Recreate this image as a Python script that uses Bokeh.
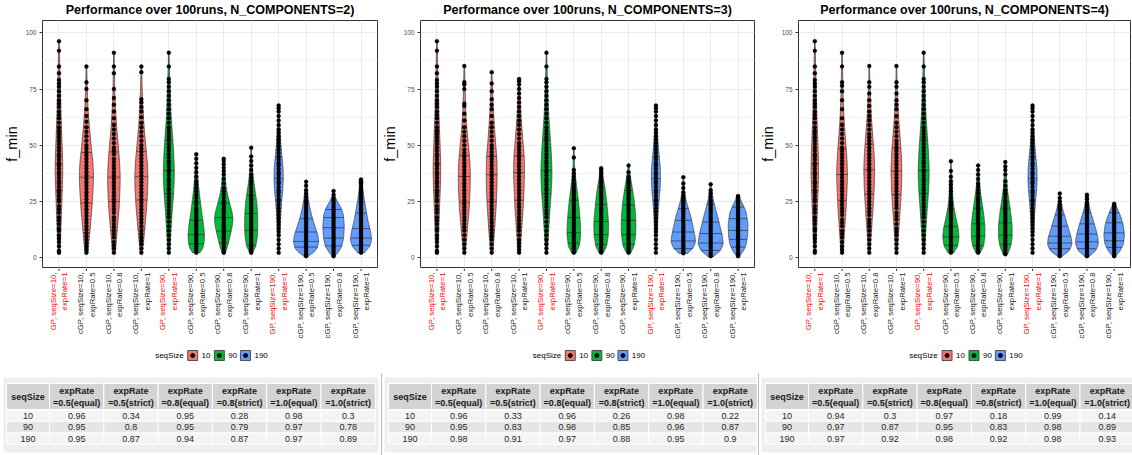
from math import pi

import numpy as np
from bokeh.core.properties import value
from bokeh.embed import file_html
from bokeh.layouts import column, row
from bokeh.models import ColumnDataSource, FixedTicker, Range1d
from bokeh.plotting import figure
from bokeh.resources import INLINE

FONT = "Liberation Sans"

# ---------------------------------------------------------------- categories
CATEGORY_LABELS = [
    "GP, seqSize=10,\nexpRate=1",
    "cGP, seqSize=10,\nexpRate=0.5",
    "cGP, seqSize=10,\nexpRate=0.8",
    "cGP, seqSize=10,\nexpRate=1",
    "GP, seqSize=90,\nexpRate=1",
    "cGP, seqSize=90,\nexpRate=0.5",
    "cGP, seqSize=90,\nexpRate=0.8",
    "cGP, seqSize=90,\nexpRate=1",
    "GP, seqSize=190,\nexpRate=1",
    "cGP, seqSize=190,\nexpRate=0.5",
    "cGP, seqSize=190,\nexpRate=0.8",
    "cGP, seqSize=190,\nexpRate=1",
]
CATEGORY_SEQSIZE = [10, 10, 10, 10, 90, 90, 90, 90, 190, 190, 190, 190]
CATEGORY_IS_GP = [True, False, False, False] * 3
SEQ_SIZES = [10, 90, 190]
N_COMPONENTS = [2, 3, 4]

# ---------------------------------------------------------------- plain GP runs (same in every panel)
GP10_LEVELS = [2.2, 10, 20, 30, 38, 45, 55, 65, 75, 85, 96.3]
GP10_DENS = [3, 6, 9, 12, 14, 13, 10, 7, 5, 3, 1]
GP10_Q = [14, 29.9, 41.8, 56, 70]
GP10_PTS = [2.2, 3, 5, 7, 8.5, 10, 12, 13, 15, 16.5, 18, 20, 21.5, 23, 25, 26, 27.5, 29, 30,
            31.5, 33, 34, 35.5, 37, 38, 39.5, 41, 42, 43.5, 45, 46, 47.5, 49, 50.5, 52, 53.5,
            55, 56.5, 58, 60, 62, 63.5, 65, 67, 68.5, 70, 72, 74, 76, 77.5, 79, 82, 85, 92, 96.3]

GP90_LEVELS = [2.2, 10, 20, 28, 35, 40, 48, 55, 62, 70, 78, 85, 91.2]
GP90_DENS = [3, 7, 12, 17, 20, 20, 17, 13, 9, 6, 4, 2, 1]
GP90_Q = [16, 28.4, 38.8, 52.4, 66]
GP90_PTS = [2.2, 4, 6, 8, 10, 12, 14, 16, 18, 19.5, 21, 22.5, 24, 25.5, 27, 28.5, 30, 31,
            32.5, 34, 35, 36.5, 38, 39, 40.5, 42, 43, 44.5, 46, 47.5, 49, 50.5, 52, 53.5, 55,
            56.5, 58, 60, 62, 64, 66, 68, 70, 72, 74, 76, 78, 79.5, 85, 91.2]

GP190_LEVELS = [2.2, 10, 18, 25, 30, 35, 40, 45, 52, 58, 63, 67.7]
GP190_DENS = [2, 4, 7, 11, 15, 17, 16, 12, 7, 4, 2, 1]
GP190_Q = [15, 25.5, 35.1, 44.7, 55]
GP190_PTS = [2.2, 4, 6, 8, 10, 11.5, 13, 14.5, 16, 17.5, 19, 20.5, 22, 23.5, 25, 26, 27.5,
             29, 30, 31.5, 33, 34, 35.5, 37, 38, 39.5, 41, 42, 43.5, 45, 46.5, 48, 49.5, 51,
             52.5, 54, 55.5, 57, 59, 61, 63, 65, 66.5, 67.7]

# ---------------------------------------------------------------- cGP runs, N_COMPONENTS=2
# order: seqSize 10 (0.5, 0.8, 1), seqSize 90 (...), seqSize 190 (...)
C2_LEVELS = [
    [2.2, 8, 15, 22, 30, 36, 42, 50, 58, 66, 75, 85],
    [2.2, 8, 15, 22, 30, 36, 42, 50, 58, 66, 75, 85, 91.1],
    [2.2, 8, 15, 22, 30, 36, 42, 50, 58, 66, 75, 85],
    [2.2, 4, 7, 10, 13, 16, 20, 25, 30, 35, 40, 46],
    [2.2, 5, 10, 14, 17, 20, 24, 28, 32, 38, 44],
    [2.2, 5, 10, 15, 20, 25, 30, 35, 40, 45, 48.9],
    [0.6, 2, 4, 7, 10, 14, 18, 22, 26, 30, 33.8],
    [0.6, 2, 5, 9, 14, 19, 22, 25, 27, 29.6],
    [2.2, 5, 8, 12, 16, 20, 25, 30, 33, 34.8],
]
C2_DENS = [
    [5, 10, 15, 20, 24, 26, 24, 17, 11, 6, 3, 1],
    [5, 9, 14, 19, 22, 23, 21, 16, 10, 6, 3, 2, 1],
    [4, 9, 14, 19, 23, 24, 22, 16, 10, 6, 3, 1],
    [12, 24, 29, 30, 28, 25, 20, 15, 10, 6, 3, 1],
    [6, 14, 24, 31, 34, 31, 22, 14, 8, 4, 1],
    [5, 17, 23, 24, 23, 20, 14, 8, 4, 2, 1],
    [6, 25, 40, 46, 43, 32, 22, 14, 8, 4, 1],
    [3, 15, 30, 37, 39, 36, 28, 14, 6, 1],
    [12, 32, 39, 34, 26, 20, 13, 7, 4, 1],
]
C2_Q = [
    [11, 24.3, 35.8, 46.7, 58],
    [12, 25, 35.8, 47, 60],
    [13, 25.6, 36, 47.3, 60],
    [6.2, 10.2, 16.6, 24.4, 33],
    [6.7, 11.8, 17.8, 24.3, 31],
    [5.5, 12.1, 19.6, 27.7, 35],
    [4.7, 7.2, 11.4, 17.3, 24.7],
    [5.2, 8.7, 13.3, 17.8, 21.4],
    [5.5, 8.7, 12.9, 19.8, 24.7],
]
C2_PTS = [
    [2.2, 3.5, 5, 6.5, 8, 9.5, 11, 12.5, 14, 15.5, 17, 18.5, 20, 21.5, 23, 24.5, 26, 27.5, 29,
     30.5, 32, 33.5, 35, 36.5, 38, 39.5, 41, 42.5, 44, 45.5, 47, 48.5, 50, 52, 54, 56, 58,
     60.5, 63, 66, 70, 75, 78, 85],
    [2.2, 4, 5.5, 7, 9, 10.5, 12, 13.5, 15, 16.5, 18, 20, 21.5, 23, 24.5, 26, 27.5, 29, 30.5,
     32, 33.5, 35, 36.5, 38, 39.5, 41, 42.5, 44, 46, 47.5, 49, 51, 53, 55, 57, 59, 62, 65, 68,
     71, 75, 82, 85, 91.1],
    [2.2, 4, 6, 7.5, 9, 10.5, 12, 14, 15.5, 17, 18.5, 20, 21.5, 23, 24.5, 26, 27.5, 29, 30.5,
     32, 33.5, 35, 36.5, 38, 39.5, 41, 42.5, 44, 45.5, 47, 48.5, 50, 52, 54, 56, 58, 60, 62.5,
     65, 67, 69, 70.5, 82.5, 85],
    [2.2, 3, 4, 5, 6, 7, 8, 9, 10, 11, 12, 13, 14, 15, 16, 17, 18, 19, 20, 21, 22, 23.5, 25,
     26.5, 28, 29.5, 31, 32.5, 34, 36, 38, 40, 42, 44, 46],
    [2.2, 3, 4.5, 6, 7, 8, 9, 10, 11, 12, 13, 14, 15, 16, 17, 18, 19, 20, 21, 22, 23, 24, 25,
     26.5, 28, 29.5, 31, 33, 35, 37, 38.5, 40, 41.5, 43, 44],
    [2.2, 3, 4, 5, 6, 7, 8, 9, 10, 11, 12, 13, 14, 15, 16, 17, 18, 19, 20, 21, 22, 23, 24, 25,
     26, 27, 28, 29.5, 31, 32.5, 34, 35.5, 37, 39, 41, 43, 45, 48.9],
    [0.6, 1.5, 2.5, 3.5, 4.5, 5.5, 6.5, 7.5, 8.5, 9.5, 10.5, 11.5, 12.5, 13.5, 14.5, 15.5, 16.5,
     17.5, 18.5, 19.5, 20.5, 21.5, 22.5, 23.5, 24.5, 25.5, 27, 28.5, 30, 32, 33.8],
    [0.6, 1.5, 2.5, 3.5, 4.5, 5.5, 6.5, 7.5, 8.5, 9.5, 10.5, 11.5, 12.5, 13.5, 14.5, 15.5, 16.5,
     17.5, 18.5, 19.5, 20.5, 21.5, 22.5, 23.5, 24.5, 25.5, 26.5, 28, 29.6],
    [2.2, 3, 4, 5, 6, 7, 8, 9, 10, 11, 12, 13, 14, 15, 16, 17, 18, 19, 20, 21, 22, 23, 24, 25,
     26, 27, 28, 29, 30, 31, 32, 33, 33.5, 34, 34.8],
]

# ---------------------------------------------------------------- cGP runs, N_COMPONENTS=3
C3_LEVELS = [
    [2.2, 8, 15, 22, 30, 36, 42, 50, 58, 66, 75, 85.2],
    [2.2, 8, 15, 22, 30, 37, 44, 50, 58, 66, 75, 82.5],
    [2.2, 8, 15, 22, 30, 38, 45, 52, 60, 68, 74, 79.5],
    [2.2, 5, 10, 15, 20, 25, 30, 35, 40, 45, 48.7],
    [2.2, 5, 10, 15, 20, 25, 30, 35, 39.8],
    [2.2, 5, 10, 15, 20, 25, 30, 35, 41],
    [1.9, 4, 7, 10, 14, 18, 22, 26, 30, 35.8],
    [0.6, 3, 6, 10, 14, 18, 22, 26, 29, 32.6],
    [0.6, 3, 6, 10, 15, 20, 23, 25, 27.4],
]
C3_DENS = [
    [4, 8, 13, 18, 21, 22, 21, 15, 9, 5, 3, 1],
    [4, 8, 12, 16, 19, 20, 19, 15, 10, 6, 3, 1],
    [4, 7, 11, 15, 18, 20, 19, 14, 9, 5, 3, 1],
    [8, 20, 25, 24, 21, 17, 12, 7, 3, 2, 1],
    [8, 20, 26, 27, 24, 20, 15, 8, 1],
    [8, 20, 26, 27, 25, 21, 15, 8, 1],
    [15, 35, 45, 42, 35, 28, 18, 9, 4, 1],
    [10, 35, 46, 42, 34, 26, 17, 9, 5, 1],
    [5, 20, 30, 35, 36, 30, 20, 12, 3],
]
C3_Q = [
    [12, 24.7, 36.1, 45.5, 58],
    [12, 25, 36.9, 45, 58],
    [12, 25.5, 37.8, 45.4, 60],
    [6.5, 11.1, 17.8, 25.5, 32.9],
    [5.9, 10.2, 16.1, 23.7, 31.4],
    [6, 10.2, 16.6, 23.4, 29.9],
    [4, 7.4, 11.4, 16.6, 21.8],
    [3.2, 6.5, 10.7, 15.8, 23.7],
    [4.7, 8.1, 12.1, 17.3, 22.5],
]
C3_PTS = [
    [2.2, 4, 6, 8, 10, 12, 13.5, 15, 16.5, 18, 19.5, 21, 22.5, 24, 25.5, 27, 28.5, 30, 31.5, 33,
     34.5, 36, 37.5, 39, 40.5, 42, 43.5, 45, 46.5, 48, 50, 52, 54, 56, 58, 61, 64, 67.5, 68.5,
     75, 77, 78, 85.2],
    [2.2, 4, 6, 8, 9.5, 11, 12.5, 14, 15.5, 17, 18.5, 20, 21.5, 23, 24.5, 26, 27.5, 29, 30.5,
     32, 33.5, 35, 36.5, 38, 39.5, 41, 42.5, 44, 45.5, 47, 48.5, 50, 52, 54, 56, 58, 60, 63,
     66, 68, 70.5, 74, 77.5, 82.5],
    [2.2, 3.5, 5, 6.5, 8, 10, 12, 13.5, 15, 16.5, 18, 19.5, 21, 22.5, 24, 25.5, 27, 28.5, 30,
     31.5, 33, 34.5, 36, 37.5, 39, 40.5, 42, 43.5, 45, 46.5, 48, 49.5, 51, 53, 55, 57, 59, 61,
     63, 65, 67, 69, 71, 73, 75, 77, 78.5, 79.5],
    [2.2, 3, 4, 5, 6, 7, 8, 9, 10, 11, 12, 13, 14, 15, 16, 17, 18, 19, 20, 21, 22, 23, 24, 25,
     26, 27, 28, 29, 30, 31, 32, 33, 34.5, 36, 37.5, 39, 44.5, 48.7],
    [2.2, 3, 4, 5, 6, 7, 8, 9, 10, 11, 12, 13, 14, 15, 16, 17, 18, 19, 20, 21, 22, 23, 24, 25,
     26, 27, 28, 29, 30, 31, 32, 33, 34, 35, 36, 37, 38, 39, 39.8],
    [2.2, 3, 4, 5, 6, 7, 8, 9, 10, 11, 12, 13, 14, 15, 16, 17, 18, 19, 20, 21, 22, 23, 24, 25,
     26, 27, 28, 29, 30, 31, 32, 33, 34, 35, 36, 38, 41],
    [1.9, 2.5, 3.5, 4.5, 5.5, 6.5, 7.5, 8.5, 9.5, 10.5, 11.5, 12.5, 13.5, 14.5, 15.5, 16.5,
     17.5, 18.5, 19.5, 20.5, 21.5, 22.5, 23.5, 24.5, 25.5, 26.5, 27.5, 29, 31, 33, 35.8],
    [0.6, 1.5, 2.5, 3.5, 4.5, 5.5, 6.5, 7.5, 8.5, 9.5, 10.5, 11.5, 12.5, 13.5, 14.5, 15.5, 16.5,
     17.5, 18.5, 19.5, 20.5, 21.5, 22.5, 23.5, 24.5, 25.5, 27, 28.5, 30, 32.6],
    [0.6, 1.5, 2.5, 3.5, 4.5, 5.5, 6.5, 7.5, 8.5, 9.5, 10.5, 11.5, 12.5, 13.5, 14.5, 15.5, 16.5,
     17.5, 18.5, 19.5, 20.5, 21.5, 22.5, 23.5, 24.5, 25.5, 26.5, 27, 27.4],
]

# ---------------------------------------------------------------- cGP runs, N_COMPONENTS=4
C4_LEVELS = [
    [2.2, 8, 15, 22, 30, 37, 44, 52, 60, 68, 76, 84, 91.1],
    [2.2, 8, 15, 22, 30, 39, 46, 54, 62, 70, 78, 85.2],
    [2.2, 8, 15, 22, 30, 38, 46, 54, 62, 70, 78, 85.2],
    [2.2, 5, 9, 13, 18, 23, 28, 35, 42.9],
    [2.2, 5, 9, 14, 19, 24, 30, 35, 41],
    [1.5, 5, 9, 14, 19, 24, 30, 36, 42.5],
    [0.6, 3, 6, 9, 13, 17, 21, 25, 28.5],
    [0.6, 3, 6, 9, 13, 17, 21, 25, 28],
    [0.6, 3, 6, 10, 14, 18, 21, 24],
]
C4_DENS = [
    [4, 7, 11, 15, 18, 20, 18, 13, 8, 5, 3, 2, 1],
    [3, 6, 10, 14, 18, 20, 18, 13, 8, 5, 2, 1],
    [3, 6, 10, 14, 18, 20, 18, 13, 8, 5, 2, 1],
    [10, 25, 30, 27, 18, 10, 6, 3, 1],
    [8, 20, 25, 25, 21, 15, 8, 4, 1],
    [8, 20, 25, 25, 21, 15, 8, 4, 1],
    [8, 35, 45, 42, 32, 22, 12, 5, 1],
    [8, 32, 42, 40, 32, 22, 12, 5, 1],
    [5, 22, 34, 38, 34, 25, 15, 3],
]
C4_Q = [
    [12, 25.5, 37, 48.3, 60],
    [13, 28.3, 39.1, 50.5, 62],
    [13, 28, 38.5, 48.7, 62],
    [5.5, 9.2, 13.9, 21.7, 30],
    [5.5, 9.5, 15, 22, 29],
    [6, 10, 15.5, 22, 28],
    [4, 6.5, 9.5, 14, 19],
    [4, 7, 10.5, 15, 20],
    [4.5, 7.5, 11, 15.5, 20],
]
C4_PTS = [
    [2.2, 3.5, 5, 7, 9, 10.5, 12, 14, 15.5, 17, 19, 20.5, 22, 23.5, 25, 26.5, 28, 29.5, 31,
     32.5, 34, 35.5, 37, 38.5, 40, 41.5, 43, 44.5, 46, 47.5, 49, 51, 53, 55, 57, 59, 62, 66,
     70, 74, 76.5, 78, 85, 91.1],
    [2.2, 4, 6, 8, 10, 12, 14, 15.5, 17, 19, 20.5, 22, 23.5, 25, 26.5, 28, 29.5, 31, 32.5, 34,
     35.5, 37, 38.5, 40, 41.5, 43, 44.5, 46, 47.5, 49, 50.5, 52, 53.5, 55, 57, 59, 61, 63, 65,
     67.5, 70, 73, 76, 78, 85.2],
    [2.2, 4, 6, 8, 10, 11.5, 13, 15, 17, 18.5, 20, 22, 23.5, 25, 26.5, 28, 29.5, 31, 32.5, 34,
     35.5, 37, 38.5, 40, 41.5, 43, 44.5, 46, 47.5, 49, 50.5, 52, 54, 56, 58, 60, 63, 66, 68,
     70, 73, 76, 78, 85.2],
    [2.2, 3, 4, 5, 6, 7, 8, 9, 10, 11, 12, 13, 14, 15, 16, 17, 18, 19, 20, 21, 22, 23, 24, 25,
     26.5, 28, 29.5, 31, 32.5, 34, 36, 38.5, 42.9],
    [2.2, 3, 4, 5, 6, 7, 8, 9, 10, 11, 12, 13, 14, 15, 16, 17, 18, 19, 20, 21, 22, 23, 24, 25,
     26, 27, 28.5, 30, 31.5, 33, 35, 37, 39, 41],
    [1.5, 2.5, 3.5, 4.5, 5.5, 6.5, 7.5, 8.5, 9.5, 10.5, 11.5, 12.5, 13.5, 14.5, 15.5, 16.5,
     17.5, 18.5, 19.5, 20.5, 21.5, 22.5, 23.5, 24.5, 25.5, 27, 28.5, 30, 32, 34, 37, 39, 40.5,
     42.5],
    [0.6, 1.5, 2.5, 3.5, 4.5, 5.5, 6.5, 7.5, 8.5, 9.5, 10.5, 11.5, 12.5, 13.5, 14.5, 15.5, 16.5,
     17.5, 18.5, 19.5, 20.5, 21.5, 22.5, 23.5, 25, 26.5, 28.5],
    [0.6, 1.5, 2.5, 3.5, 4.5, 5.5, 6.5, 7.5, 8.5, 9.5, 10.5, 11.5, 12.5, 13.5, 14.5, 15.5, 16.5,
     17.5, 18.5, 19.5, 20.5, 21.5, 22.5, 23.5, 24.5, 26, 27, 28],
    [0.6, 1.5, 2.5, 3.5, 4.5, 5.5, 6.5, 7.5, 8.5, 9.5, 10.5, 11.5, 12.5, 13.5, 14.5, 15.5, 16.5,
     17.5, 18.5, 19.5, 20.5, 21.5, 22.5, 23, 23.5, 24],
]

# ---------------------------------------------------------------- success-rate tables
TABLE_FIRST_HEADER = "seqSize"
TABLE_HEADERS = ["expRate\n=0.5(equal)", "expRate\n=0.5(strict)", "expRate\n=0.8(equal)",
                 "expRate\n=0.8(strict)", "expRate\n=1.0(equal)", "expRate\n=1.0(strict)"]
N2_TABLE = [[0.96, 0.34, 0.95, 0.28, 0.98, 0.3],
            [0.95, 0.8, 0.95, 0.79, 0.97, 0.78],
            [0.95, 0.87, 0.94, 0.87, 0.97, 0.89]]
N3_TABLE = [[0.96, 0.33, 0.96, 0.26, 0.98, 0.22],
            [0.95, 0.83, 0.98, 0.85, 0.96, 0.87],
            [0.98, 0.91, 0.97, 0.88, 0.95, 0.9]]
N4_TABLE = [[0.94, 0.3, 0.97, 0.18, 0.99, 0.14],
            [0.97, 0.87, 0.95, 0.83, 0.98, 0.89],
            [0.97, 0.92, 0.98, 0.92, 0.98, 0.93]]

# ---------------------------------------------------------------- styling / geometry
FILL = {10: "#F8766D", 90: "#00BA38", 190: "#619CFF"}
INK = "#333333"
HALF_WIDTH_PER_DENSITY = 0.01   # category units per density unit
TITLE_H = 19
MAIN_H = 249                    # 1px border + 247px frame + 1px border
LABEL_H = 104
TABLE_H = 83
PANEL_W = [378, 378, 376]
FRAME_LEFT = [38, 37, 41]
FRAME_RIGHT = [1, 2, 2]
LEGEND_Y = -87                  # px below the label strip top
LEGEND_TITLE_DX = -55.5         # px from frame centre
LEGEND_KEY_DX = [-17.5, 9.5, 36]
LEGEND_TEXT_GAP = 9

SMOOTH_K = np.exp(-0.5 * (np.arange(-6, 7) / 2.5) ** 2)
SMOOTH_K /= SMOOTH_K.sum()


def violin_outline(levels, dens):
    ys = np.linspace(levels[0], levels[-1], 150)
    hw = np.interp(ys, levels, dens) * HALF_WIDTH_PER_DENSITY
    hw = np.convolve(np.pad(hw, 6, mode="edge"), SMOOTH_K, mode="valid")
    return ys, hw


def panel_series(c_levels, c_dens, c_q, c_pts):
    gp = [(GP10_LEVELS, GP10_DENS, GP10_Q, GP10_PTS),
          (GP90_LEVELS, GP90_DENS, GP90_Q, GP90_PTS),
          (GP190_LEVELS, GP190_DENS, GP190_Q, GP190_PTS)]
    out = []
    for g in range(3):
        out.append(gp[g])
        for k in range(3):
            j = g * 3 + k
            out.append((c_levels[j], c_dens[j], c_q[j], c_pts[j]))
    return out


def strip(width, height, left, right, x_range, y_range):
    f = figure(width=width, height=height, x_range=x_range, y_range=y_range,
               output_backend="svg", toolbar_location=None, x_axis_type=None,
               y_axis_type=None, min_border_left=left, min_border_right=right,
               min_border_top=0, min_border_bottom=0)
    f.outline_line_color = None
    f.background_fill_color = "white"
    f.border_fill_color = "white"
    return f


def make_panel(n_comp, series, width, left, right):
    frame_w = width - left - right
    x_range = Range1d(0.4, 12.6)
    px_per_unit = frame_w / (x_range.end - x_range.start)
    centre = (x_range.start + x_range.end) / 2
    cats = list(range(1, 13))

    # title strip
    tf = strip(width, TITLE_H, left, right, x_range, Range1d(0, TITLE_H))
    tf.text(x=[centre], y=[TITLE_H - 9.5],
            text=[f"Performance over 100runs, N_COMPONENTS={n_comp})"],
            text_align="center", text_baseline="middle", text_font=value(FONT),
            text_font_size="12.5px", text_font_style="bold", text_color="black")

    # violin panel
    p = figure(width=width, height=MAIN_H, x_range=x_range, y_range=Range1d(-4.4, 105.5),
               output_backend="svg", toolbar_location=None, min_border_left=left,
               min_border_right=right, min_border_top=1, min_border_bottom=1)
    p.background_fill_color = "white"
    p.border_fill_color = "white"
    p.outline_line_color = INK
    p.outline_line_width = 1
    p.xaxis.ticker = FixedTicker(ticks=cats)
    p.xaxis.visible = False
    p.yaxis.ticker = FixedTicker(ticks=[0, 25, 50, 75, 100], minor_ticks=[12.5, 37.5, 62.5, 87.5])
    p.yaxis.axis_line_color = None
    p.yaxis.major_tick_line_color = INK
    p.yaxis.major_tick_out = 3
    p.yaxis.major_tick_in = 0
    p.yaxis.minor_tick_line_color = None
    p.yaxis.major_label_text_font = FONT
    p.yaxis.major_label_text_font_size = "6.5px"
    p.yaxis.major_label_text_color = "#4d4d4d"
    p.yaxis.major_label_standoff = 2
    p.yaxis.axis_label = "f_min"
    p.yaxis.axis_label_text_font = FONT
    p.yaxis.axis_label_text_font_size = "14.5px"
    p.yaxis.axis_label_text_font_style = "normal"
    p.yaxis.axis_label_text_color = "black"
    p.yaxis.axis_label_standoff = 3
    p.xgrid.grid_line_color = "#ebebeb"
    p.ygrid.grid_line_color = "#ebebeb"
    p.ygrid.minor_grid_line_color = "#f3f3f3"

    seg = dict(x0=[], y0=[], x1=[], y1=[])
    pts = dict(x=[], y=[])
    groups = {s: dict(xs=[], ys=[]) for s in SEQ_SIZES}
    for i, (levels, dens, q, values) in enumerate(series):
        cx = cats[i]
        ys, hw = violin_outline(levels, dens)
        groups[CATEGORY_SEQSIZE[i]]["xs"].append(np.concatenate([cx - hw, (cx + hw)[::-1]]))
        groups[CATEGORY_SEQSIZE[i]]["ys"].append(np.concatenate([ys, ys[::-1]]))
        for qv in q:
            h = float(np.interp(qv, ys, hw))
            seg["x0"].append(cx - h)
            seg["x1"].append(cx + h)
            seg["y0"].append(qv)
            seg["y1"].append(qv)
        pts["x"].extend([cx] * len(values))
        pts["y"].extend(values)

    for s in SEQ_SIZES:
        p.patches(xs="xs", ys="ys", source=ColumnDataSource(groups[s]),
                  fill_color=FILL[s], line_color=INK, line_width=0.7)
    p.segment(x0="x0", y0="y0", x1="x1", y1="y1", source=ColumnDataSource(seg),
              line_color=INK, line_width=0.7)
    p.scatter(x="x", y="y", source=ColumnDataSource(pts), size=4,
              fill_color="black", line_color="black", line_width=0.3)

    # category labels, tick marks and legend strip
    lf = strip(width, LABEL_H, left, right, x_range, Range1d(-LABEL_H, 0))
    lf.segment(x0=cats, x1=cats, y0=[0] * 12, y1=[-2.5] * 12, line_color=INK, line_width=1)
    lf.text(x=cats, y=[-4] * 12, text=CATEGORY_LABELS, angle=pi / 2, text_align="right",
            text_baseline="middle", text_font=value(FONT), text_font_size="7.8px",
            text_line_height=1.3,
            text_color=["#ff0000" if gp else "#1a1a1a" for gp in CATEGORY_IS_GP])
    key_x = [centre + dx / px_per_unit for dx in LEGEND_KEY_DX]
    lf.text(x=[centre + LEGEND_TITLE_DX / px_per_unit], y=[LEGEND_Y], text=["seqSize"],
            text_baseline="middle", text_font=value(FONT), text_font_size="8px",
            text_color="black")
    lf.rect(x=key_x, y=[LEGEND_Y] * 3, width=10, height=10, width_units="screen",
            height_units="screen", fill_color=[FILL[s] for s in SEQ_SIZES], line_color=INK,
            line_width=0.8)
    lf.scatter(x=key_x, y=[LEGEND_Y] * 3, size=4, color="black")
    lf.text(x=[k + LEGEND_TEXT_GAP / px_per_unit for k in key_x], y=[LEGEND_Y] * 3,
            text=[str(s) for s in SEQ_SIZES], text_baseline="middle", text_font=value(FONT),
            text_font_size="8px", text_color="black")
    return column(tf, p, lf)


SERIES = [panel_series(C2_LEVELS, C2_DENS, C2_Q, C2_PTS),
          panel_series(C3_LEVELS, C3_DENS, C3_Q, C3_PTS),
          panel_series(C4_LEVELS, C4_DENS, C4_Q, C4_PTS)]
panels = [make_panel(N_COMPONENTS[k], SERIES[k], PANEL_W[k], FRAME_LEFT[k], FRAME_RIGHT[k])
          for k in range(3)]

# ---------------------------------------------------------------- tables strip
TABLE_X0 = [6, 388, 765]
BAND_X = [(3, 378), (384, 756), (761, 1132)]
SEPARATOR_X = [381, 758]
COL_W = [43] + [54.3] * 6
HEADER_Y = (11, 37)
ROW_Y = [(37.5, 49), (49, 60.5), (60.5, 72)]
ROW_FILL = ["#f4f4f4", "#e5e5e5", "#f4f4f4"]
TABLES = [N2_TABLE, N3_TABLE, N4_TABLE]

tb = strip(1132, TABLE_H, 0, 0, Range1d(0, 1132), Range1d(TABLE_H, 0))

band = dict(left=[b[0] for b in BAND_X], right=[b[1] for b in BAND_X],
            top=[5] * 3, bottom=[80] * 3)
tb.quad(source=ColumnDataSource(band), left="left", right="right", top="top", bottom="bottom",
        fill_color="#efefef", line_color=None)
tb.segment(x0=SEPARATOR_X, x1=SEPARATOR_X, y0=[1, 1], y1=[TABLE_H, TABLE_H],
           line_color="#bdbdbd", line_width=1)

cells = dict(left=[], right=[], top=[], bottom=[], fill=[])
bold_txt = dict(x=[], y=[], t=[])
plain_txt = dict(x=[], y=[], t=[])
edges = np.concatenate([[0], np.cumsum(COL_W)])
for k in range(3):
    x0 = TABLE_X0[k]
    for c in range(7):
        l, r = x0 + edges[c], x0 + edges[c + 1]
        cells["left"].append(l)
        cells["right"].append(r)
        cells["top"].append(HEADER_Y[0])
        cells["bottom"].append(HEADER_Y[1])
        cells["fill"].append("#d3d3d3")
        cxm = (l + r) / 2
        if c == 0:
            bold_txt["x"].append(cxm)
            bold_txt["y"].append(sum(HEADER_Y) / 2)
            bold_txt["t"].append(TABLE_FIRST_HEADER)
        else:
            line1, line2 = TABLE_HEADERS[c - 1].split("\n")
            bold_txt["x"] += [cxm, cxm]
            bold_txt["y"] += [HEADER_Y[0] + 7, HEADER_Y[0] + 19.5]
            bold_txt["t"] += [line1, line2]
        for ri, (rt, rb) in enumerate(ROW_Y):
            cells["left"].append(l)
            cells["right"].append(r)
            cells["top"].append(rt)
            cells["bottom"].append(rb)
            cells["fill"].append(ROW_FILL[ri])
            plain_txt["x"].append(cxm)
            plain_txt["y"].append((rt + rb) / 2)
            plain_txt["t"].append(str(SEQ_SIZES[ri]) if c == 0 else str(TABLES[k][ri][c - 1]))

tb.quad(source=ColumnDataSource(cells), left="left", right="right", top="top", bottom="bottom",
        fill_color="fill", line_color="white", line_width=1)
tb.text(source=ColumnDataSource(bold_txt), x="x", y="y", text="t", text_align="center",
        text_baseline="middle", text_font=value(FONT), text_font_size="9px",
        text_font_style="bold", text_color="#1a1a1a")
tb.text(source=ColumnDataSource(plain_txt), x="x", y="y", text="t", text_align="center",
        text_baseline="middle", text_font=value(FONT), text_font_size="9px",
        text_color="#262626")

layout = column(row(*panels), tb)
open("out.html", "w").write(file_html(layout, INLINE))
